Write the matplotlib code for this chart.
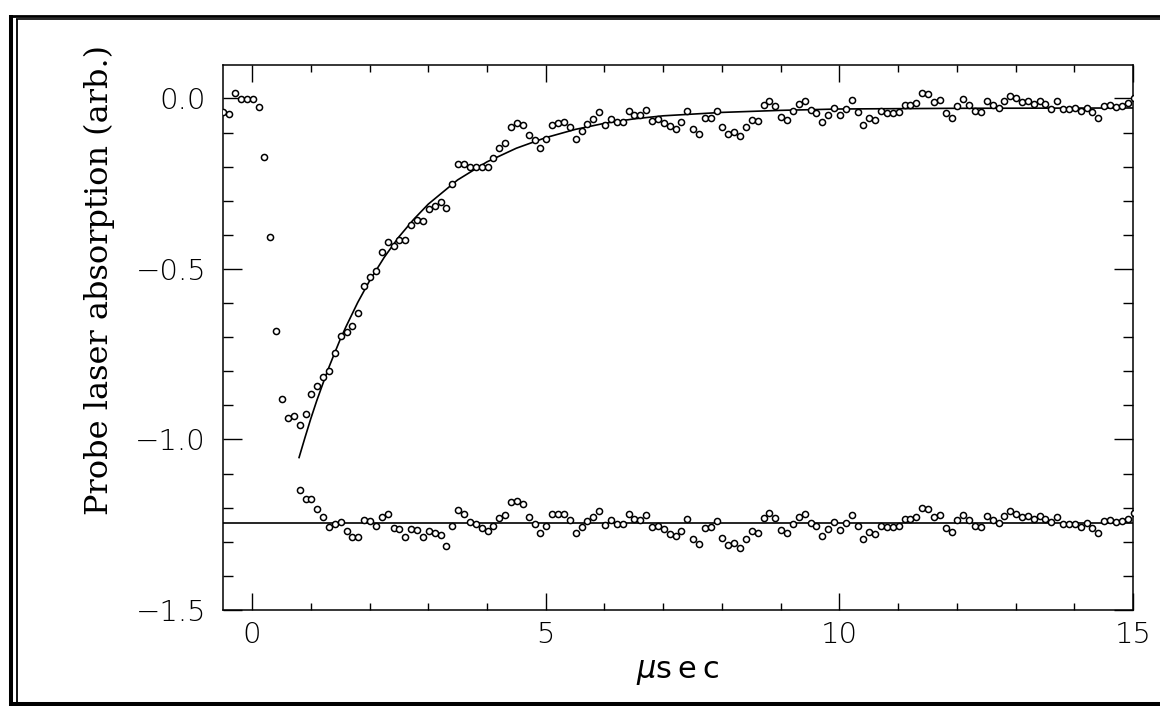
import numpy as np
import matplotlib
matplotlib.use("Agg")
import matplotlib.pyplot as plt
from matplotlib.lines import Line2D
from matplotlib.ticker import MultipleLocator

# ---------------- data ----------------
t0, dt = -0.49, 0.1          # sampling grid of the traces (microseconds)

# upper trace (pump off -> recovery), samples k = -5 ... 150
upper_y = [
    -0.039, -0.046, 0.015, -0.003, -0.003,
    -0.003, -0.024, -0.171, -0.406, -0.682, -0.880, -0.937, -0.931, -0.957, -0.925,
    -0.868, -0.843, -0.817, -0.800, -0.745, -0.697, -0.686, -0.667, -0.630, -0.550,
    -0.523, -0.505, -0.451, -0.420, -0.433, -0.414, -0.416, -0.372, -0.356, -0.358,
    -0.324, -0.315, -0.304, -0.321, -0.251, -0.193, -0.192, -0.202, -0.200, -0.200,
    -0.200, -0.175, -0.144, -0.130, -0.084, -0.072, -0.077, -0.106, -0.122, -0.145,
    -0.119, -0.079, -0.073, -0.070, -0.083, -0.120, -0.095, -0.076, -0.061, -0.041,
    -0.077, -0.061, -0.068, -0.068, -0.037, -0.049, -0.049, -0.034, -0.066, -0.061,
    -0.072, -0.082, -0.089, -0.069, -0.036, -0.091, -0.105, -0.057, -0.057, -0.037,
    -0.085, -0.104, -0.098, -0.110, -0.085, -0.063, -0.065, -0.020, -0.007, -0.021,
    -0.054, -0.063, -0.037, -0.016, -0.008, -0.034, -0.042, -0.070, -0.050, -0.029,
    -0.050, -0.030, -0.006, -0.040, -0.077, -0.057, -0.063, -0.037, -0.042, -0.042,
    -0.040, -0.018, -0.018, -0.012, 0.016, 0.013, -0.010, -0.004, -0.042, -0.056,
    -0.021, -0.003, -0.019, -0.036, -0.041, -0.008, -0.020, -0.027, -0.007, 0.007,
    0.000, -0.010, -0.007, -0.017, -0.007, -0.015, -0.031, -0.007, -0.031, -0.031,
    -0.029, -0.038, -0.029, -0.040, -0.058, -0.022, -0.019, -0.025, -0.022, -0.014,
    0.000,
]

# lower trace, samples k = 8 ... 150
lower_start = 0.81
lower_y = [
    -1.147, -1.175,
    -1.175, -1.203, -1.226, -1.257, -1.247, -1.241, -1.269, -1.287, -1.287, -1.236,
    -1.240, -1.253, -1.226, -1.219, -1.259, -1.262, -1.287, -1.262, -1.265, -1.285,
    -1.268, -1.274, -1.279, -1.311, -1.253, -1.208, -1.218, -1.241, -1.248, -1.259,
    -1.269, -1.253, -1.230, -1.221, -1.184, -1.180, -1.189, -1.226, -1.247, -1.275,
    -1.253, -1.219, -1.218, -1.218, -1.236, -1.275, -1.256, -1.239, -1.227, -1.211,
    -1.250, -1.236, -1.247, -1.249, -1.218, -1.232, -1.236, -1.221, -1.256, -1.253,
    -1.262, -1.277, -1.283, -1.267, -1.233, -1.291, -1.306, -1.259, -1.257, -1.240,
    -1.289, -1.308, -1.303, -1.318, -1.292, -1.269, -1.273, -1.229, -1.216, -1.229,
    -1.264, -1.273, -1.248, -1.227, -1.219, -1.246, -1.253, -1.282, -1.263, -1.243,
    -1.264, -1.245, -1.220, -1.253, -1.291, -1.272, -1.278, -1.253, -1.258, -1.256,
    -1.253, -1.233, -1.234, -1.227, -1.200, -1.204, -1.226, -1.220, -1.259, -1.272,
    -1.237, -1.220, -1.236, -1.253, -1.256, -1.225, -1.236, -1.245, -1.223, -1.211,
    -1.218, -1.226, -1.223, -1.232, -1.223, -1.233, -1.243, -1.226, -1.249, -1.249,
    -1.247, -1.256, -1.246, -1.259, -1.275, -1.240, -1.237, -1.243, -1.240, -1.232,
    -1.216,
]

# fitted recovery curve
fit_x = [0.80, 0.90, 1.00, 1.10, 1.20, 1.30, 1.40, 1.50, 1.60, 1.80, 2.00, 2.25,
         2.50, 2.75, 3.00, 3.50, 4.00, 4.50, 5.00, 5.50, 6.00, 6.50, 7.00, 8.00,
         9.00, 10.0, 12.0, 15.0]
fit_y = [-1.053, -0.995, -0.939, -0.887, -0.839, -0.792, -0.749, -0.707, -0.669,
         -0.598, -0.535, -0.466, -0.406, -0.355, -0.310, -0.239, -0.186, -0.146,
         -0.115, -0.091, -0.073, -0.060, -0.051, -0.041, -0.035, -0.031, -0.029,
         -0.028]

# baseline level of the lower trace
baseline_y = -1.246

x_ticks = [0, 5, 10, 15]
x_ticklabels = ["0", "5", "10", "15"]
y_ticks = [0.0, -0.5, -1.0, -1.5]
y_ticklabels = ["0.0", "\u22120.5", "\u22121.0", "\u22121.5"]
x_label = "$\\mu$s\u2009e\u2009c"
y_label = "Probe laser absorption (arb.)"

# ---------------- figure ----------------
W, H = 1160, 706
fig = plt.figure(figsize=(W / 100, H / 100), dpi=100)
ax = fig.add_axes([222.7 / W, 1 - 610 / H, (1133 - 222.7) / W, (610 - 65) / H])

upper_x = t0 + dt * np.arange(len(upper_y))
lower_x = lower_start + dt * np.arange(len(lower_y))

mk = dict(linestyle="none", marker="o", markersize=4.4, markerfacecolor="white",
          markeredgecolor="black", markeredgewidth=1.1, zorder=3)
ax.plot(upper_x, upper_y, **mk)
ax.plot(lower_x, lower_y, **mk)
ax.plot(fit_x, fit_y, color="black", lw=1.2, zorder=2)
ax.axhline(baseline_y, color="black", lw=1.2, zorder=2)

ax.set_xlim(-0.5, 15.0)
ax.set_ylim(-1.5, 0.098)

ax.set_xticks(x_ticks)
ax.set_xticklabels(x_ticklabels)
ax.set_yticks(y_ticks)
ax.set_yticklabels(y_ticklabels)
ax.xaxis.set_minor_locator(MultipleLocator(1))
ax.yaxis.set_minor_locator(MultipleLocator(0.1))

ax.tick_params(axis="both", which="both", direction="in", top=True, right=True,
               width=1.0, color="black")
ax.tick_params(axis="x", which="major", length=12, pad=8, labelsize=21)
ax.tick_params(axis="x", which="minor", length=5)
ax.tick_params(axis="y", which="major", length=14, pad=12, labelsize=21)
ax.tick_params(axis="y", which="minor", length=7)

for lab in ax.get_xticklabels() + ax.get_yticklabels():
    lab.set_family("DejaVu Sans")
    lab.set_fontweight("light")

for s in ax.spines.values():
    s.set_linewidth(1.1)

ax.set_xlabel(x_label, fontsize=22, family="DejaVu Sans")
ax.xaxis.set_label_coords(0.5, -0.088)
ax.set_ylabel(y_label, fontsize=23, family="DejaVu Serif")
ax.yaxis.set_label_coords(-0.118, 0.605)

# double-line frame around the figure
def fline(x0, y0, x1, y1, lw):
    fig.add_artist(Line2D([x0 / W, x1 / W], [1 - y0 / H, 1 - y1 / H],
                          transform=fig.transFigure, color="black", lw=lw,
                          solid_capstyle="butt"))

fline(11.3, 14.5, 11.3, 706, 2.9)
fline(16.7, 18.5, 16.7, 704, 1.3)
fline(9.5, 15.8, 1160, 15.8, 2.0)
fline(15.8, 19.4, 1160, 19.4, 1.2)
fline(9.5, 703.5, 1160, 703.5, 2.9)

fig.savefig("out.png", dpi=100, facecolor="white")
